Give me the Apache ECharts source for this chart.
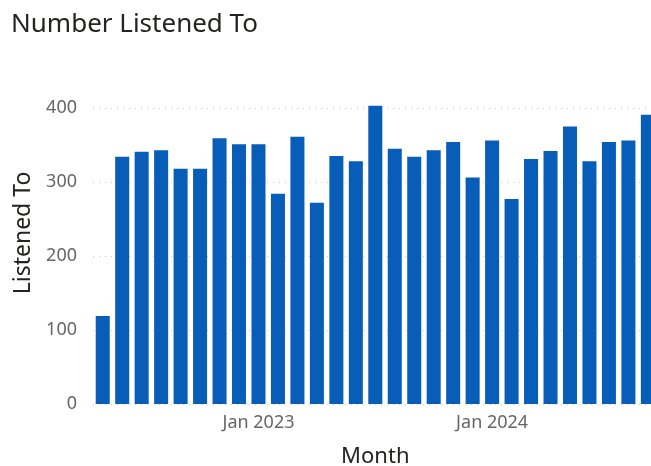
<!DOCTYPE html>
<html>
<head>
<meta charset="utf-8">
<script src="https://cdn.jsdelivr.net/npm/echarts@6/dist/echarts.min.js"></script>
<style>
html,body{margin:0;padding:0;background:#fff;}
#chart{width:651px;height:466px;}
</style>
</head>
<body>
<div id="chart"></div>
<script>
const months = [
  "May 2022","Jun 2022","Jul 2022","Aug 2022","Sep 2022","Oct 2022","Nov 2022","Dec 2022",
  "Jan 2023","Feb 2023","Mar 2023","Apr 2023","May 2023","Jun 2023","Jul 2023","Aug 2023",
  "Sep 2023","Oct 2023","Nov 2023","Dec 2023","Jan 2024","Feb 2024","Mar 2024","Apr 2024",
  "May 2024","Jun 2024","Jul 2024","Aug 2024","Sep 2024"
];
const listenedTo = [
  119, 334, 341, 343, 318, 318, 359, 351,
  351, 284, 361, 272, 335, 328, 403, 345,
  334, 343, 354, 306, 356, 277, 331, 342,
  375, 328, 354, 356, 391
];
const yTicks = [0, 100, 200, 300, 400];

const chart = echarts.init(document.getElementById('chart'));
chart.setOption({
  animation: false,
  backgroundColor: '#ffffff',
  title: {
    text: 'Number Listened To',
    left: 6,
    top: 7,
    textStyle: { fontFamily: 'Noto Sans', fontSize: 26, fontWeight: 'normal', color: '#252423' }
  },
  grid: {
    left: 93,
    right: -6.6,
    top: 108,
    bottom: 62,
    outerBoundsMode: 'none',
    containLabel: false
  },
  xAxis: {
    type: 'category',
    data: months,
    name: 'Month',
    nameLocation: 'middle',
    nameGap: 42,
    nameTextStyle: { fontFamily: 'Noto Sans', fontSize: 22, color: '#252423' },
    axisLine: { show: false },
    axisTick: { show: false },
    axisLabel: {
      interval: function (i, v) { return v.indexOf('Jan') === 0; },
      margin: 10,
      fontFamily: 'Noto Sans',
      fontSize: 18,
      color: '#666666'
    }
  },
  yAxis: {
    type: 'value',
    min: yTicks[0],
    max: yTicks[yTicks.length - 1],
    interval: 100,
    name: 'Listened To',
    nameLocation: 'middle',
    nameRotate: 90,
    nameGap: 58,
    nameTextStyle: { fontFamily: 'Noto Sans', fontSize: 23, color: '#252423', padding: [0, 0, 0, 46] },
    axisLine: { show: false },
    axisTick: { show: false },
    axisLabel: { margin: 16, fontFamily: 'Noto Sans', fontSize: 18, color: '#666666' },
    splitLine: { lineStyle: { type: [1, 5], color: '#c8c8c8', width: 1 } }
  },
  series: [{
    type: 'bar',
    data: listenedTo,
    clip: false,
    barCategoryGap: '28%',
    itemStyle: { color: '#075DB8' }
  }]
});
</script>
</body>
</html>
